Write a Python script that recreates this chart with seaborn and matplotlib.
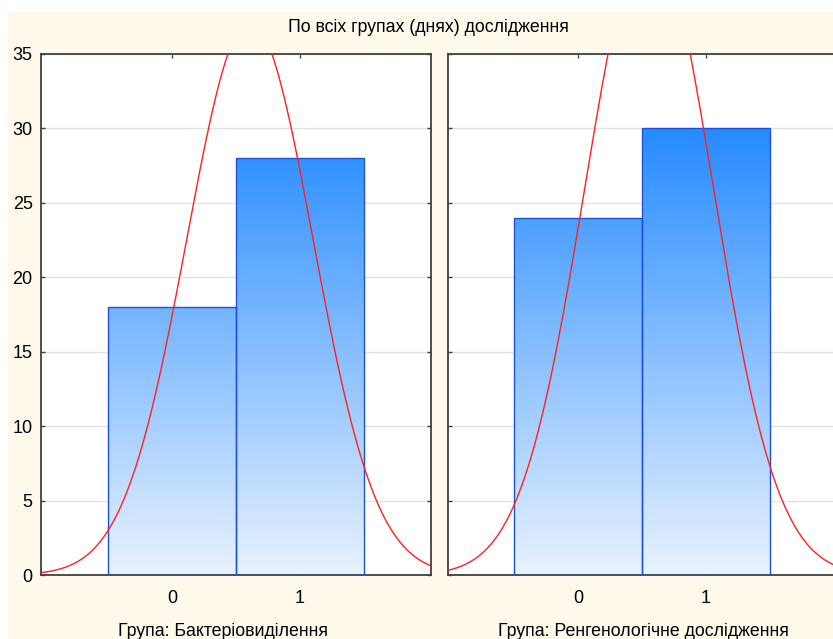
import numpy as np
import pandas as pd
import matplotlib
matplotlib.use("Agg")
import matplotlib.pyplot as plt
import matplotlib.patches as mpatches
from matplotlib.colors import LinearSegmentedColormap
import seaborn as sns

# ---- data ----
title = "По всіх групах (днях) дослідження"
categories = [0, 1]
counts_bact = [18, 28]
counts_rent = [24, 30]
panel_labels = ["Група: Бактеріовиділення", "Група: Ренгенологічне дослідження"]
y_ticks = [0, 5, 10, 15, 20, 25, 30, 35]

sns.set_theme(style="white")
plt.rcParams['font.family'] = ['Liberation Sans', 'DejaVu Sans']

W, H = 833, 639
fig = plt.figure(figsize=(W / 100, H / 100), dpi=100, facecolor="white")
fig.patches.append(mpatches.Rectangle((8 / W, 0), 1, 1 - 12 / H, transform=fig.transFigure,
                                      facecolor="#FFF9EC", edgecolor="none", zorder=-10))

cmap = LinearSegmentedColormap.from_list("g", ["#E8F2FF", "#2088FF"])
VMAX = 31.0

px_per_unit = 128.0
def make_ax(left_px, tick0_px):
    xl0 = (left_px - tick0_px) / px_per_unit
    width_px = 390
    ax = fig.add_axes([left_px / W, (H - 575) / H, width_px / W, 521 / H])
    ax.set_xlim(xl0, xl0 + width_px / px_per_unit)
    return ax

axes = [make_ax(41, 172), make_ax(448, 578)]
datasets = [counts_bact, counts_rent]

for i, (ax, cnts) in enumerate(zip(axes, datasets)):
    ax.set_facecolor("white")
    df = pd.DataFrame({"v": categories, "w": cnts})
    sns.histplot(data=df, x="v", weights="w", discrete=True, ax=ax,
                 color="#2088FF", edgecolor="#1E52D6", linewidth=1.0, alpha=1)
    xlim = ax.get_xlim()
    for p in list(ax.patches):
        x0, y0 = p.get_x(), p.get_y()
        w, h = p.get_width(), p.get_height()
        grad = np.linspace(0, h, 256)[:, None]
        im = ax.imshow(grad, extent=[x0, x0 + w, 0, h], origin="lower", cmap=cmap,
                       vmin=0, vmax=VMAX, aspect="auto", zorder=2)
        im.set_clip_path(p)
        p.set_facecolor("none")
        p.set_zorder(3)
    # normal curve
    vals = np.repeat(categories, cnts)
    n = len(vals)
    mu = vals.mean()
    sd = vals.std(ddof=1)
    xs = np.linspace(xlim[0], xlim[1], 400)
    ys = n * np.exp(-0.5 * ((xs - mu) / sd) ** 2) / (sd * np.sqrt(2 * np.pi))
    sns.lineplot(x=xs, y=ys, ax=ax, color="#FF2020", linewidth=1.0, zorder=4)
    ax.set_xlim(xlim)
    ax.set_ylim(0, 35)
    ax.set_yticks(y_ticks)
    ax.set_xticks(categories)
    ax.set_xticklabels([str(c) for c in categories])
    ax.grid(False)
    ax.yaxis.grid(True, color="#E2E2E2", linewidth=1.0)
    ax.set_axisbelow(True)
    ax.tick_params(direction="in", length=3, width=1, color="#404040",
                   top=True, right=True, bottom=True, left=True,
                   labelsize=13, labelcolor="black")
    ax.tick_params(axis="x", pad=11)
    ax.tick_params(axis="y", pad=6)
    if i == 1:
        ax.tick_params(axis="y", labelleft=False)
    for s in ax.spines.values():
        s.set_visible(True)
        s.set_color("#404040")
        s.set_linewidth(1.3)
    ax.set_xlabel("")
    ax.set_ylabel("")

fig.text(428 / W, 1 - 27 / H, title, ha="center", va="center", fontsize=12.8, color="black")
fig.text(223 / W, 1 - 631 / H, panel_labels[0], ha="center", va="center", fontsize=12.8, color="black")
fig.text(643 / W, 1 - 631 / H, panel_labels[1], ha="center", va="center", fontsize=12.8, color="black")

fig.savefig("out.png", dpi=100, facecolor=fig.get_facecolor())
